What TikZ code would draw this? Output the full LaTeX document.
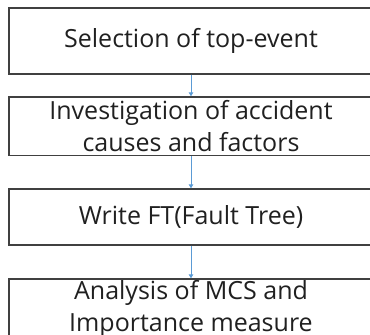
\documentclass[tikz,border=0pt]{standalone}
\usepackage{fontspec}
\setmainfont{Open Sans}
\usetikzlibrary{arrows.meta}
\definecolor{boxgray}{HTML}{404040}
\definecolor{textblack}{HTML}{202020}
\definecolor{arrowblue}{HTML}{5B9BD5}
\begin{document}
\begin{tikzpicture}[x=1pt,y=-1pt,
  box/.style={draw=boxgray, line width=1.3pt, minimum width=364pt, inner sep=0pt,
    align=center, font=\fontsize{25}{32}\selectfont, text=textblack},
  flow/.style={draw=arrowblue, line width=0.9pt, -{Triangle[length=4pt,width=4.5pt]}}]
\useasboundingbox (0,0) rectangle (370,335);
\clip (0,0) rectangle (370,335);
\node[box, minimum height=66pt] (b1) at (191,41) {Selection of top-event};
\node[box, minimum height=58.7pt] (b2) at (191,126.3) {Investigation of accident\\causes and factors};
\node[box, minimum height=56pt] (b3) at (191,217) {Write FT(Fault Tree)};
\node[box, minimum height=60pt] (b4) at (191,309) {Analysis of MCS and\\Importance measure};
\draw[flow] (b1.south) -- (b2.north);
\draw[flow] (b2.south) -- (b3.north);
\draw[flow] (b3.south) -- (b4.north);
\end{tikzpicture}
\end{document}
